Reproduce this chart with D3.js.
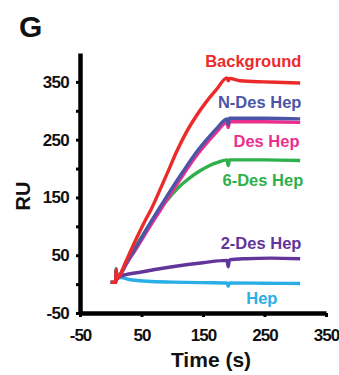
<!DOCTYPE html>
<html>
<head>
<meta charset="utf-8">
<script src="https://cdn.jsdelivr.net/npm/d3@7"></script>
<style>
  body { margin: 0; background: #fff; }
  svg text { font-family: "Liberation Sans", Arial, sans-serif; font-weight: bold; }
</style>
</head>
<body>
<div id="chart"></div>
<script>
// tick labels
var xTicks = [-50, 50, 150, 250, 350]
var yTicks = [-50, 50, 150, 250, 350]
var yMinor = [0, 100, 200, 300]

// series names + colours
var names = ["Background", "N-Des Hep", "Des Hep", "6-Des Hep", "2-Des Hep", "Hep"]
var colors = ["#ec2a2a", "#4b55a8", "#ec2f8e", "#2fb04c", "#62359a", "#2aaee6"]

// [time, RU]
var background = [[0,3],[8,3],[9,24],[10,9],[14,14],[25,40],[40,75],[55,108],[66,130],[80,163],[96,202],[107,229],[123,263],[139,291],[155,315],[172,337],[189,357],[191,352],[193,356],[210,352],[250,350],[280,349],[308,348]]
var nDesHep = [[0,3],[8,3],[9,24],[10,9],[14,14],[25,36],[40,62],[55,89],[66,109],[80,133],[96,160],[117,194],[142,232],[156,250],[172,269],[189,286],[191,276],[193,287],[250,287],[308,286]]
var desHep = [[0,3],[8,3],[9,26],[10,9],[14,13],[25,34],[40,59],[55,85],[66,104],[80,127],[96,154],[117,188],[142,226],[156,244],[172,263],[189,280],[191,271],[193,281],[250,281],[308,280]]
var sixDesHep = [[0,3],[8,3],[9,27],[10,9],[14,14],[25,35],[40,64],[55,90],[70,114],[90,143],[110,167],[125,181],[142,194],[160,205],[175,211],[189,215],[191,205],[193,215],[250,215],[308,214]]
var twoDesHep = [[0,3],[8,3],[9,20],[10,9],[14,13],[50,21],[100,30],[150,37],[189,41],[191,30],[193,42],[220,44],[260,45],[308,44]]
var hep = [[0,3],[8,3],[9,18],[10,9],[14,12],[30,8],[60,5],[100,3.5],[150,2.5],[189,2],[191,-4],[193,2],[250,1.5],[308,1]]
var seriesData = [background, nDesHep, desHep, sixDesHep, twoDesHep, hep]

// where each label's right end sits, in [time, RU]
var labelAt = [[310,376],[310,304],[307,238],[313,169],[310,61],[271,-34]]

var W = 339, H = 375

var svg = d3.select("#chart")
    .append("svg")
    .attr("width", W)
    .attr("height", H)

var x = d3.scaleLinear().domain([-50, 350]).range([80, 326])
var y = d3.scaleLinear().domain([-50, 400]).range([313, 53])

var plain = function(d){ return String(d) }  // hyphen minus like the figure

// y axis
var yAxis = svg.append("g")
    .attr("transform", "translate(80,0)")
    .call(d3.axisLeft(y).tickValues(yTicks).tickFormat(plain).tickSize(4).tickSizeOuter(0).tickPadding(7))
yAxis.select(".domain").attr("stroke-width", 4.5)
yAxis.selectAll(".tick line").attr("stroke-width", 3)
yAxis.selectAll("text").attr("font-size", 17).attr("fill", "#111")
    .attr("letter-spacing", -0.7)

svg.append("g")
    .attr("transform", "translate(80,0)")
    .call(d3.axisLeft(y).tickValues(yMinor).tickSize(4).tickFormat(""))
    .call(function(g){
        g.select(".domain").remove()
        g.selectAll(".tick line").attr("stroke-width", 3)
    })

// x axis
var xAxis = svg.append("g")
    .attr("transform", "translate(0,313)")
    .call(d3.axisBottom(x).tickValues(xTicks).tickFormat(plain).tickSize(4).tickSizeOuter(0).tickPadding(12))
xAxis.select(".domain").attr("stroke-width", 4.5)
xAxis.selectAll(".tick line").attr("stroke-width", 3)
xAxis.selectAll("text").attr("font-size", 17).attr("fill", "#111")
    .attr("letter-spacing", -1)

// axis titles
svg.append("text")
    .attr("x", 211)
    .attr("y", 367)
    .attr("text-anchor", "middle")
    .attr("font-size", 21)
    .attr("fill", "#111")
    .text("Time (s)")

svg.append("text")
    .attr("transform", "translate(30,196) rotate(-90)")
    .attr("text-anchor", "middle")
    .attr("font-size", 20)
    .attr("fill", "#111")
    .text("RU")

svg.append("text")
    .attr("x", 19)
    .attr("y", 37)
    .attr("font-size", 30)
    .attr("fill", "#111")
    .text("G")

// lines
var line = d3.line()
    .x(function(d){ return x(d[0]) })
    .y(function(d){ return y(d[1]) })
    .curve(d3.curveMonotoneX)

// draw bottom-most first so red sits on top like reference
var order = [5, 4, 3, 2, 1, 0]
order.forEach(function(i){
    svg.append("path")
        .datum(seriesData[i])
        .attr("d", line)
        .attr("fill", "none")
        .attr("stroke", colors[i])
        .attr("stroke-width", 3.4)
        .attr("stroke-linejoin", "round")
})

// labels
names.forEach(function(n, i){
    svg.append("text")
        .attr("x", x(labelAt[i][0]))
        .attr("y", y(labelAt[i][1]))
        .attr("text-anchor", "end")
        .attr("font-size", 16.5)
        .attr("fill", colors[i])
        .text(n)
})
</script>
</body>
</html>
